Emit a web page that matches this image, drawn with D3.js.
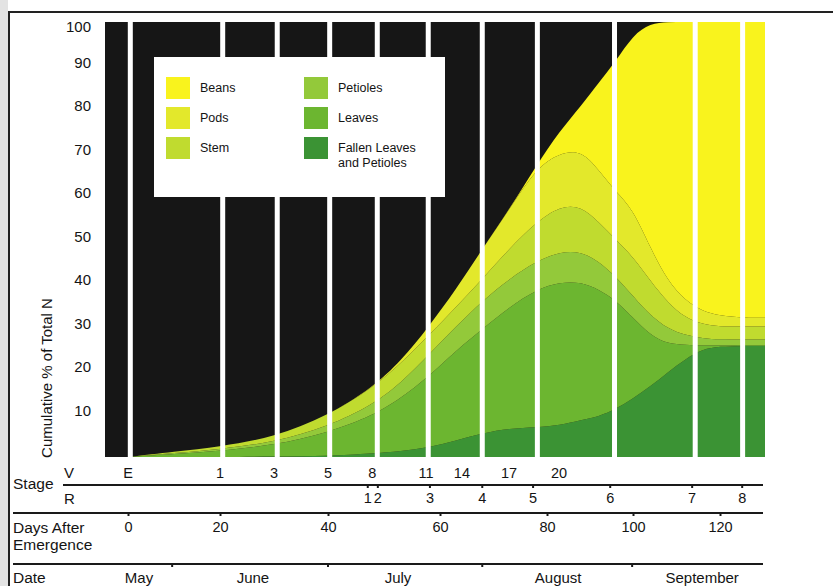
<!DOCTYPE html>
<html><head><meta charset="utf-8">
<script src="https://cdn.jsdelivr.net/npm/d3@7"></script>
<style>
body{margin:0;background:#fff;}
text{font-family:"Liberation Sans",Arial,Helvetica,sans-serif;fill:#141414;}
</style>
</head><body><svg id="c" width="833" height="586"></svg>
<script>
// ---------- data ----------
const days      = [0, 10, 20, 30, 40, 48, 53, 58, 63, 68, 73, 78, 83, 88, 92, 96, 100, 104, 108, 112, 116, 120, 125, 131];
const fallen    = [0, 0, 0, 0.1, 0.2, 0.8, 1.3, 2.2, 3.8, 5.5, 6.6, 6.8, 7.3, 8.5, 9.3, 11, 13.5, 16.2, 19.5, 22.5, 24.8, 25.4, 25.5, 25.5];
const leaves    = [0, 0.7, 1.4, 2.6, 5.4, 8.7, 12.2, 16.3, 20.7, 24.0, 27.9, 31.7, 32.9, 31.7, 29.2, 25, 18.5, 11.8, 6.5, 3.3, 0.8, 0.2, 0.2, 0.2];
const petioles  = [0, 0.2, 0.4, 0.7, 1.4, 2.5, 3.5, 5.0, 5.5, 6.5, 6.5, 6.5, 7.0, 7.0, 6.5, 5.5, 5.0, 4.5, 3.5, 2.2, 1.7, 1.4, 1.3, 1.3];
const stem      = [0, 0.3, 0.6, 1.1, 2.5, 4.0, 4.5, 4.5, 4.5, 5.0, 7.0, 9.0, 10.5, 10.5, 9.0, 8.5, 9.0, 8.0, 6.0, 4.0, 3.2, 3.0, 3.0, 3.0];
const pods      = [0, 0, 0, 0, 0, 0, 0.5, 2.0, 4.0, 7.0, 9.0, 12.5, 12.2, 12.8, 12.0, 11, 11, 7.5, 5.0, 4.0, 3.0, 2.5, 2.0, 2.0];
const beans     = [0, 0, 0, 0, 0, 0, 0, 0, 0, 0, 0, 0.5, 5.1, 10.3, 20, 30, 40, 51.7, 59.5, 64, 66.5, 67.5, 68, 68];

const seriesNames  = ["Fallen Leaves and Petioles", "Leaves", "Petioles", "Stem", "Pods", "Beans"];
const seriesColors = ["#3b9334", "#6cb630", "#93c93a", "#c0db2f", "#e3e82b", "#f9f31d"];

const yTicks     = [10, 20, 30, 40, 50, 60, 70, 80, 90, 100];
const dayTicks   = [0, 20, 40, 60, 80, 100, 120];
const vLabels    = ["E", "1", "3", "5", "8", "11", "14", "17", "20"];
const vDays      = [0, 20, 30, 40, 47.9, 57.5, 64.1, 72.9, 82.8];
const rLabels    = ["1", "2", "3", "4", "5", "6", "7", "8"];
const rDays      = [47.1, 48.9, 58.2, 67.9, 77.4, 94.7, 113.6, 125.1];
const gapDays    = [0.5, 20.5, 30.6, 40.3, 48.8, 57.9, 67.9, 78.2, 95.7, 114.3, 125.2];
const months     = ["May", "June", "July", "August", "September"];
const monthDays  = [2.4, 26.1, 52.5, 82.6, 115.9];
const dateTicks  = [9.6, 40, 67.9, 99.8];
const legendCols = [["Beans", "Pods", "Stem"], ["Petioles", "Leaves", "Fallen Leaves|and Petioles"]];

// ---------- layout ----------
const svg = d3.select("#c");
const P = {left: 105, right: 765, top: 22, bottom: 457};

// hand-drawn day axis: piecewise linear
const x = d3.scaleLinear().domain(dayTicks).range([128, 220, 328, 440, 547, 633, 720]);
const y = d3.scaleLinear().domain([0, 100]).range([P.bottom, P.top]);

// frame
svg.append("rect").attr("x", 0).attr("y", 0).attr("width", 8).attr("height", 586).attr("fill", "#e3e3e3");
svg.append("line").attr("x1", 8).attr("x2", 833).attr("y1", 12).attr("y2", 12).attr("stroke", "#222").attr("stroke-width", 2);
svg.append("line").attr("x1", 9).attr("x2", 9).attr("y1", 12).attr("y2", 586).attr("stroke", "#222").attr("stroke-width", 2);

// plot background
svg.append("defs").append("clipPath").attr("id", "clip")
  .append("rect").attr("x", P.left).attr("y", P.top).attr("width", P.right - P.left).attr("height", P.bottom - P.top);
svg.append("rect").attr("x", P.left).attr("y", P.top).attr("width", P.right - P.left).attr("height", P.bottom - P.top).attr("fill", "#161616");

const keys = ["fallen", "leaves", "petioles", "stem", "pods", "beans"];
const table = days.map((d, i) => ({day: d, fallen: fallen[i], leaves: leaves[i], petioles: petioles[i], stem: stem[i], pods: pods[i], beans: beans[i]}));
const stacked = d3.stack().keys(keys)(table);
const area = d3.area()
  .x(d => x(d.data.day))
  .y0(d => y(d[0]))
  .y1(d => y(d[1]))
  .curve(d3.curveBasis);

const g = svg.append("g").attr("clip-path", "url(#clip)");
g.selectAll("path.layer").data(stacked).join("path")
  .attr("class", "layer")
  .attr("d", area)
  .attr("fill", (d, i) => seriesColors[i]);

// white vertical gaps
g.selectAll("rect.gap").data(gapDays).join("rect")
  .attr("class", "gap")
  .attr("x", d => x(d) - 2.5).attr("width", 5)
  .attr("y", P.top - 1).attr("height", P.bottom - P.top + 2)
  .attr("fill", "#fff");

// y axis
const yAxis = svg.append("g").attr("transform", `translate(${P.left},0)`)
  .call(d3.axisLeft(y).tickValues(yTicks).tickSize(0).tickPadding(14));
yAxis.select(".domain").remove();
yAxis.selectAll("text").attr("font-size", 15).attr("fill", "#141414")
  .attr("dy", d => d === 100 ? "0.6em" : "0.1em")
  .style("font-family", '"Liberation Sans", Arial, sans-serif');

svg.append("text").attr("transform", "translate(52,378) rotate(-90)")
  .attr("text-anchor", "middle").attr("font-size", 15).text("Cumulative % of Total N");

// legend
svg.append("rect").attr("x", 154).attr("y", 57).attr("width", 291).attr("height", 140).attr("fill", "#fff");
const legColX = [166, 304];
let k = 0;
const legColorOrder = [5, 4, 3, 2, 1, 0];
legendCols.forEach((col, ci) => {
  col.forEach((name, ri) => {
    const yy = 77 + ri * 30;
    svg.append("rect").attr("x", legColX[ci]).attr("y", yy).attr("width", 24).attr("height", 22)
      .attr("fill", seriesColors[legColorOrder[k]]);
    const parts = name.split("|");
    const t = svg.append("text").attr("x", legColX[ci] + 34).attr("y", yy + 15).attr("font-size", 12.5);
    parts.forEach((p, pi) => t.append("tspan").attr("x", legColX[ci] + 34).attr("dy", pi ? 15 : 0).text(p));
    k++;
  });
});

// bottom rows
const lineStyle = sel => sel.attr("stroke", "#1a1a1a").attr("stroke-width", 2);
svg.append("line").attr("x1", 63).attr("x2", 763).attr("y1", 485).attr("y2", 485).call(lineStyle);
svg.append("line").attr("x1", 13).attr("x2", 763).attr("y1", 513).attr("y2", 513).call(lineStyle);
svg.append("line").attr("x1", 13).attr("x2", 763).attr("y1", 564).attr("y2", 564).call(lineStyle);

svg.append("text").attr("x", 13).attr("y", 489).attr("font-size", 15.5).text("Stage");
svg.append("text").attr("x", 64).attr("y", 478).attr("font-size", 15).text("V");
svg.append("text").attr("x", 64).attr("y", 504).attr("font-size", 15).text("R");
svg.append("text").attr("x", 13).attr("y", 533).attr("font-size", 15.5).text("Days After");
svg.append("text").attr("x", 13).attr("y", 550).attr("font-size", 15.5).text("Emergence");
svg.append("text").attr("x", 13).attr("y", 583).attr("font-size", 15.5).text("Date");

svg.selectAll("text.v").data(vLabels).join("text").attr("class", "v")
  .attr("x", (d, i) => x(vDays[i])).attr("y", 478).attr("text-anchor", "middle").attr("font-size", 14.5).text(d => d);
svg.selectAll("text.r").data(rLabels).join("text").attr("class", "r")
  .attr("x", (d, i) => x(rDays[i])).attr("y", 503).attr("text-anchor", "middle").attr("font-size", 14.5).text(d => d);
svg.selectAll("line.rt").data(rDays).join("line").attr("class", "rt")
  .attr("x1", d => x(d)).attr("x2", d => x(d)).attr("y1", 485).attr("y2", 488).call(lineStyle);

const dAxis = svg.append("g").attr("transform", "translate(0,513)")
  .call(d3.axisBottom(x).tickValues(dayTicks).tickSize(3).tickSizeOuter(0));
dAxis.select(".domain").remove();
dAxis.selectAll("line").attr("stroke", "#1a1a1a").attr("stroke-width", 2);
dAxis.selectAll("text").attr("y", 19).attr("dy", 0).attr("font-size", 14.5).attr("fill", "#141414")
  .style("font-family", '"Liberation Sans", Arial, sans-serif');

svg.selectAll("line.dt").data(dateTicks).join("line").attr("class", "dt")
  .attr("x1", d => x(d)).attr("x2", d => x(d)).attr("y1", 564).attr("y2", 567).call(lineStyle);
svg.selectAll("text.m").data(months).join("text").attr("class", "m")
  .attr("x", (d, i) => x(monthDays[i])).attr("y", 583).attr("text-anchor", "middle").attr("font-size", 15).text(d => d);
</script>
</body></html>
